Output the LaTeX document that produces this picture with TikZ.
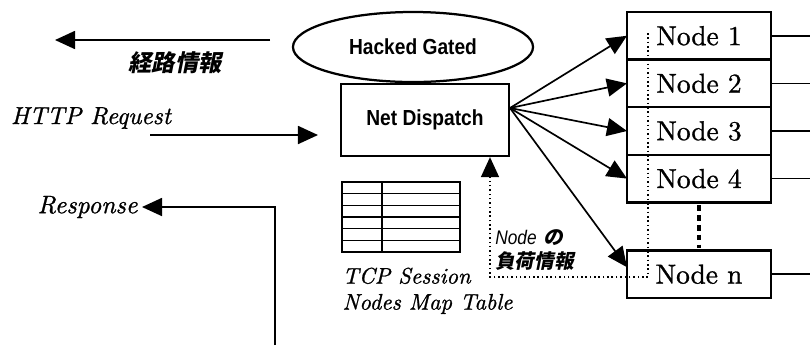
\documentclass[tikz,border=0pt]{standalone}
\usepackage{fontspec}
\setmainfont{lmroman10-regular.otf}[ItalicFont=lmroman10-italic.otf, BoldFont=lmroman10-bold.otf, FakeBold=1]
\newfontfamily\gothfont[FakeStretch=0.88]{Liberation Sans}
\newfontfamily\jpfont[FakeSlant=0.2]{Noto Sans CJK JP}
\usetikzlibrary{
  arrows.meta,
  positioning,
  shapes.geometric,
  calc
}

\begin{document}
\begin{tikzpicture}[
  x=0.025cm, y=-0.025cm,
  srv/.style={draw, line width=1.6pt, outer sep=0pt, inner sep=0pt, minimum width=3.6cm, minimum height=1.19cm, font=\fontsize{19.5}{22}\selectfont},
  proc/.style={draw, line width=1.6pt, font=\gothfont\bfseries\fontsize{15.5}{18}\selectfont},
  msg/.style={font=\itshape\fontsize{17.5}{20}\selectfont, inner sep=1pt},
  jpmsg/.style={font=\jpfont\bfseries\fontsize{16.5}{18}\selectfont, inner sep=0pt},
  arrow/.style={-{Triangle[length=0.5cm,width=0.45cm]}, line width=1.2pt},
  load/.style={dotted, line width=1.1pt}
]
  \useasboundingbox (0,0) rectangle (810,345);

  % Gated and dispatcher
  \node[proc, ellipse, minimum width=6cm, minimum height=1.75cm, inner sep=0pt] (gated) at (413,47) {Hacked Gated};
  \node[proc, minimum width=4.2cm, minimum height=1.8cm] (dispatch) at (425,120) {Net Dispatch};

  % Server nodes
  \node[srv] (n1) at (699,35.75) {Node 1};
  \node[srv, below=0pt of n1] (n2) {Node 2};
  \node[srv, below=0pt of n2] (n3) {Node 3};
  \node[srv, below=0pt of n3] (n4) {Node 4};
  \node[srv, below=1.2cm of n4] (nn) {Node n};
  \draw[line width=3.5pt, dash pattern=on 4pt off 3pt] ([yshift=-2pt]n4.south) -- ([yshift=2pt]nn.north);

  % Lines out to the right
  \coordinate (edge) at (810,0);
  \foreach \n in {n1,n2,n3,n4,nn}
    \draw[line width=1.2pt] (\n.east) -- (\n.east -| edge);

  % Fan out
  \coordinate (fan) at (510,108);
  \foreach \n in {n1,n2,n3,n4}
    \draw[arrow] (fan) -- (\n.west);
  \draw[arrow] (fan) -- ([yshift=0.175cm]nn.west);

  % Route info
  \coordinate (routeS) at (270,40);
  \coordinate (routeE) at (55,40);
  \draw[arrow] (routeS) -- (routeE);
  \node[jpmsg] (route) at (175,63) {経路情報};

  % Request
  \node[msg] (req) at (91,118) {HTTP Request};
  \coordinate (reqS) at (150,135);
  \coordinate (reqE) at (318,135);
  \draw[arrow] (reqS) -- (reqE);

  % Response
  \node[msg, anchor=east, inner sep=3pt, font=\itshape\fontsize{18}{20}\selectfont] (resp) at (142,207) {Response};
  \coordinate (respS) at (275,345);
  \draw[arrow] (respS) |- (resp);

  % Session table
  \draw[line width=1.2pt] (342,182) rectangle (460,252);
  \draw[line width=1.2pt] (382,182) -- (382,252);
  \foreach \r in {1,...,5}
    \draw[line width=1pt] (342,{182+\r*70/6}) -- (460,{182+\r*70/6});
  \node[msg, anchor=north west, align=left, font=\itshape\fontsize{16}{18.5}\selectfont] (tcp) at (341,266) {TCP Session\\Nodes Map Table};

  % Load info
  \coordinate (loadA) at (648,33);
  \coordinate (loadB) at (490,277);
  \draw[load, -{Triangle[length=0.5cm,width=0.45cm]}] (loadA) |- (loadB) -- (loadB |- dispatch.south);
  \node[anchor=north west, align=left, inner sep=0pt, font=\fontsize{14}{17.5}\selectfont] (loadlbl) at (495,229)
    {{\gothfont\itshape Node} {\jpfont\bfseries の}\\{\jpfont\bfseries 負荷情報}};
\end{tikzpicture}
\end{document}
